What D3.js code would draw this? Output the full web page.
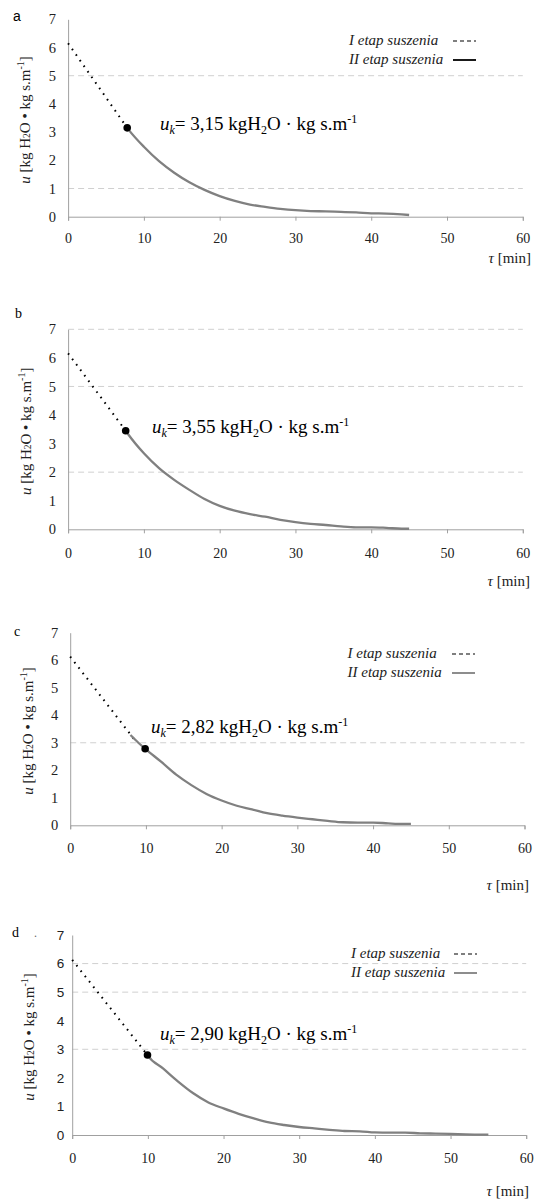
<!DOCTYPE html>
<html><head><meta charset="utf-8">
<script src="https://cdn.jsdelivr.net/npm/d3@7"></script>
<style>
html,body{margin:0;padding:0;background:#fff;}
svg{display:block;}
</style></head>
<body>
<svg id="chart" width="534" height="1203"></svg>
<script>
// ---- data ----
const xTicks = [0, 10, 20, 30, 40, 50, 60];
const yTicks = [0, 1, 2, 3, 4, 5, 6, 7];
const panelLabels = ["a", "b", "c", "d"];
const ukLabels = ["3,15", "3,55", "2,82", "2,90"];
const legendLabels = ["I etap suszenia", "II etap suszenia"];

// stage I (dotted) lines
const tauI_a = [0, 7.8];  const uI_a = [6.15, 3.15];
const tauI_b = [0, 7.6];  const uI_b = [6.16, 3.45];
const tauI_c = [0, 8.7];  const uI_c = [6.13, 3.04];
const tauI_d = [0, 9.95]; const uI_d = [6.13, 2.8];

// critical points
const tauK = [7.8, 7.6, 9.9, 9.95];
const uK = [3.15, 3.45, 2.78, 2.8];

// stage II (solid) curves
const tauII_a = [7.8, 8, 10, 12, 14, 16, 18, 20, 22, 24, 26, 28, 30, 32, 34, 36, 38, 40, 42, 44, 45];
const uII_a   = [3.15, 3.08, 2.48, 1.97, 1.56, 1.22, 0.95, 0.73, 0.56, 0.43, 0.35, 0.28, 0.23, 0.2, 0.19, 0.17, 0.15, 0.12, 0.11, 0.08, 0.06];
const tauII_b = [7.6, 8, 10, 12, 14, 16, 18, 20, 22, 24, 26, 28, 30, 32, 34, 36, 38, 40, 42, 44, 45];
const uII_b   = [3.45, 3.3, 2.66, 2.14, 1.73, 1.38, 1.06, 0.82, 0.65, 0.53, 0.44, 0.33, 0.25, 0.19, 0.15, 0.1, 0.07, 0.07, 0.05, 0.02, 0.02];
const tauII_c = [7.96, 9, 10, 12, 14, 16, 18, 20, 22, 24, 26, 28, 30, 32, 34, 36, 38, 40, 42, 44, 45];
const uII_c   = [3.28, 3.0, 2.76, 2.31, 1.84, 1.46, 1.14, 0.9, 0.71, 0.58, 0.44, 0.35, 0.28, 0.22, 0.16, 0.11, 0.1, 0.1, 0.07, 0.05, 0.05];
const tauII_d = [9.95, 10, 12, 14, 16, 18, 20, 22, 24, 26, 28, 30, 32, 34, 36, 38, 40, 42, 44, 46, 48, 50, 52, 54, 55];
const uII_d   = [2.8, 2.78, 2.33, 1.87, 1.46, 1.14, 0.93, 0.74, 0.58, 0.44, 0.35, 0.28, 0.23, 0.18, 0.14, 0.13, 0.09, 0.08, 0.08, 0.06, 0.05, 0.04, 0.02, 0.01, 0.01];

// grid lines visible in each panel
const grid_a = [1, 5];
const grid_b = [2, 5, 7];
const grid_c = [3];
const grid_d = [3, 5, 6];

// ---- layout ----
const panels = [
  {lab: panelLabels[0], labX: 13, labY: 21, labSans: true, x0: 68.1, x1: 522.8, yTop: 19.3, yBot: 216.7,
   tickY: 238, tauY: 263, tauX: 531, yLabX: 30, annX: 160, annY: 130,
   tI: tauI_a, uI: uI_a, tII: tauII_a, uII: uII_a, grid: grid_a, legend: {x: 349, y: 45, lx: 453, solid: "#000"}, ySans: false},
  {lab: panelLabels[1], labX: 15, labY: 318, labSans: false, x0: 68.1, x1: 522.8, yTop: 329.3, yBot: 529.3,
   tickY: 553, tauY: 586, tauX: 530, yLabX: 31, annX: 152, annY: 433,
   tI: tauI_b, uI: uI_b, tII: tauII_b, uII: uII_b, grid: grid_b, legend: null, ySans: false},
  {lab: panelLabels[2], labX: 14, labY: 636, labSans: false, x0: 70.2, x1: 524.5, yTop: 632.7, yBot: 825.3,
   tickY: 848, tauY: 890, tauX: 529, yLabX: 32.5, annX: 151, annY: 733,
   tI: tauI_c, uI: uI_c, tII: tauII_c, uII: uII_c, grid: grid_c, legend: {x: 347.5, y: 658, lx: 452, solid: "#808080"}, ySans: false},
  {lab: panelLabels[3], labX: 12, labY: 937, labSans: false, x0: 72.2, x1: 526.2, yTop: 935, yBot: 1135,
   tickY: 1158, tauY: 1196, tauX: 529, yLabX: 34, annX: 160, annY: 1040,
   tI: tauI_d, uI: uI_d, tII: tauII_d, uII: uII_d, grid: grid_d, legend: {x: 351, y: 958, lx: 454, solid: "#808080"}, ySans: true}
];

const SERIF = "'Liberation Serif','Times New Roman',serif";
const SANS = "'Liberation Sans',Arial,sans-serif";
const svg = d3.select("#chart");

panels.forEach((p, i) => {
  const x = d3.scaleLinear().domain([0, 60]).range([p.x0, p.x1]);
  const y = d3.scaleLinear().domain([0, 7]).range([p.yBot, p.yTop]);
  const g = svg.append("g");

  // panel letter
  g.append("text").attr("x", p.labX).attr("y", p.labY)
    .attr("font-family", p.labSans ? SANS : SERIF).attr("font-size", 14).text(p.lab);
  if (i === 3) g.append("text").attr("x", 34).attr("y", p.labY).attr("font-family", SERIF).attr("font-size", 12).attr("fill", "#666").text(".");

  // grid
  g.selectAll(".grid").data(p.grid).join("line")
    .attr("x1", x(0)).attr("x2", x(60)).attr("y1", d => y(d)).attr("y2", d => y(d))
    .attr("stroke", "#d0d0d0").attr("stroke-width", 1).attr("stroke-dasharray", "6,4");

  // x axis
  const xa = g.append("g").attr("transform", `translate(0,${p.yBot})`)
    .call(d3.axisBottom(x).tickValues(xTicks).tickSize(4).tickPadding(p.tickY - p.yBot - 9).tickFormat(d3.format("d")));
  xa.select(".domain").attr("stroke", "#a0a0a0");
  xa.selectAll(".tick line").attr("stroke", "#a0a0a0");
  xa.selectAll(".tick text").attr("font-family", SERIF).attr("font-size", 14).attr("fill", "#222");

  // y axis
  const ya = g.append("g").attr("transform", `translate(${p.x0},0)`)
    .call(d3.axisLeft(y).tickValues(yTicks).tickSize(0).tickPadding(p.ySans ? 8 : 12).tickFormat(d3.format("d")));
  ya.select(".domain").attr("stroke", "#a0a0a0");
  ya.selectAll(".tick text").attr("font-family", p.ySans ? SANS : SERIF).attr("font-size", p.ySans ? 13.5 : 14.5).attr("fill", "#222");

  // tau label
  const tl = g.append("text").attr("x", p.tauX).attr("y", p.tauY).attr("text-anchor", "end")
    .attr("font-family", SERIF).attr("font-size", 15).attr("fill", "#222");
  tl.append("tspan").attr("font-style", "italic").text("τ");
  tl.append("tspan").text("  [min]");

  // y label
  const cy = (p.yTop + p.yBot) / 2 + 2;
  const yl = g.append("text").attr("transform", `translate(${p.yLabX},${cy}) rotate(-90)`)
    .attr("text-anchor", "middle").attr("font-family", SERIF).attr("font-size", 15).attr("fill", "#222");
  yl.append("tspan").attr("font-style", "italic").text("u");
  yl.append("tspan").text(" [kg H");
  yl.append("tspan").attr("font-size", 9.5).text("2");
  yl.append("tspan").text("O • kg s.m");
  yl.append("tspan").attr("font-size", 10).attr("dy", -6).text("-1");
  yl.append("tspan").attr("dy", 6).text("]");

  // stage I dotted
  const line = d3.line().x(d => x(d[0])).y(d => y(d[1]));
  g.append("path").datum(d3.zip(p.tI, p.uI)).attr("d", line)
    .attr("fill", "none").attr("stroke", "#000").attr("stroke-width", 2)
    .attr("stroke-dasharray", "1.6,5.2");

  // stage II curve
  g.append("path").datum(d3.zip(p.tII, p.uII)).attr("d", line.curve(d3.curveMonotoneX))
    .attr("fill", "none").attr("stroke", "#808080").attr("stroke-width", 2.3).attr("stroke-linejoin", "round");

  // critical point
  g.append("circle").attr("cx", x(tauK[i])).attr("cy", y(uK[i])).attr("r", 3.8).attr("fill", "#000");

  // annotation
  const an = g.append("text").attr("x", p.annX).attr("y", p.annY)
    .attr("font-family", SERIF).attr("font-size", 19).attr("fill", "#000");
  an.append("tspan").attr("font-style", "italic").text("u");
  an.append("tspan").attr("font-style", "italic").attr("font-size", 12).attr("dy", 4).text("k");
  an.append("tspan").attr("dy", -4).text("= " + ukLabels[i] + " kgH");
  an.append("tspan").attr("font-size", 12).attr("dy", 4).text("2");
  an.append("tspan").attr("dy", -4).text("O · kg s.m");
  an.append("tspan").attr("font-size", 12).attr("dy", -7).text("-1");

  // legend
  if (p.legend) {
    const L = p.legend;
    legendLabels.forEach((t, k) => {
      const by = L.y + k * 19;
      g.append("text").attr("x", L.x).attr("y", by).attr("font-family", SERIF)
        .attr("font-style", "italic").attr("font-size", 15).attr("fill", "#222").text(t);
      g.append("line").attr("x1", L.lx).attr("x2", L.lx + 23).attr("y1", by - 4).attr("y2", by - 4)
        .attr("stroke", k === 0 ? "#000" : L.solid).attr("stroke-width", k === 0 ? 1.2 : 1.8)
        .attr("stroke-dasharray", k === 0 ? "4,3" : null);
    });
  }
});
</script>
</body></html>
